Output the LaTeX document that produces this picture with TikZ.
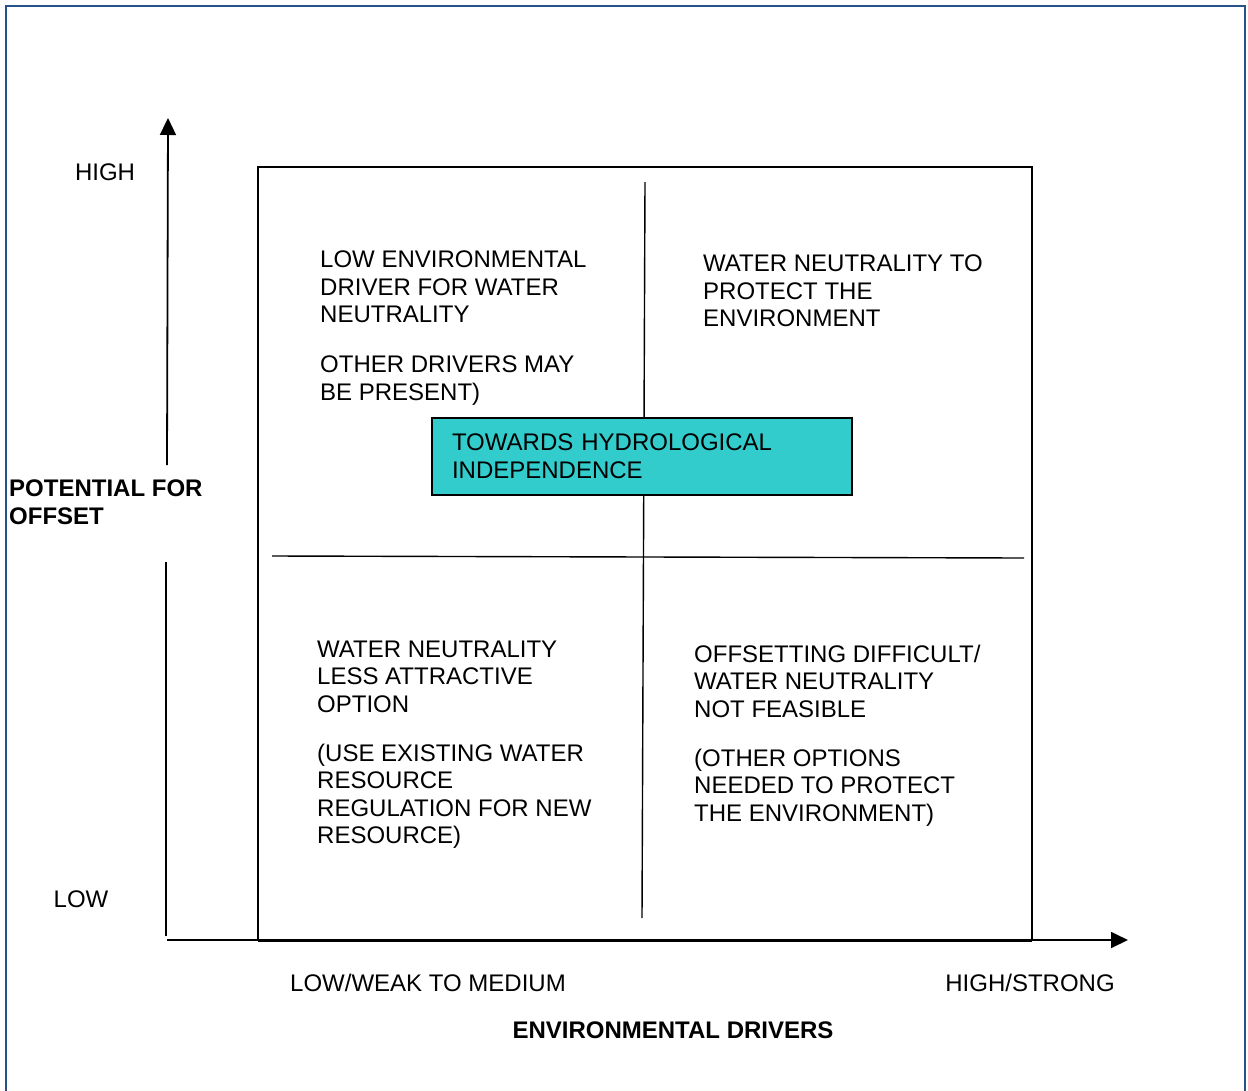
\documentclass[tikz,border=0pt]{standalone}
\usepackage{fontspec}
\setmainfont{Liberation Sans}
\usetikzlibrary{arrows.meta}
\definecolor{framblue}{RGB}{38,82,140}
\definecolor{hydroteal}{RGB}{51,204,204}
\begin{document}
\begin{tikzpicture}[x=1pt,y=-1pt,
        font=\fontsize{24}{27.6}\selectfont,
        every node/.style={inner sep=0pt,align=left},
        quad/.style={anchor=north west},
        axis/.style={line width=1.8pt,-{Triangle[length=17pt,width=16pt]}},
        divider/.style={line width=1.4pt}]

    \useasboundingbox (0,0) rectangle (1248,1090);
    \draw[framblue,line width=2pt] (6,1095) -- (6,6) -- (1245,6) -- (1245,1095);

    % axes
    \coordinate (ybot) at (166,936);
    \coordinate (ygap1) at (166,562);
    \coordinate (ygap2) at (167,465);
    \coordinate (ytop) at (168,118);
    \coordinate (xleft) at (167,940);
    \coordinate (xright) at (1128,940);
    \draw[line width=1.8pt] (ybot) -- (ygap1);
    \draw[axis] (ygap2) -- (ytop);
    \draw[axis] (xleft) -- (xright);

    % matrix box
    \draw[line width=2pt] (258,167) rectangle (1032,940);
    \draw[line width=3pt] (258,940) -- (1032,940);
    \coordinate (vtop) at (645,182);
    \coordinate (vbot) at (642,918);
    \coordinate (hleft) at (272,556);
    \coordinate (hright) at (1024,558);
    \draw[divider] (vtop) -- (vbot);
    \draw[divider] (hleft) -- (hright);

    \node[draw,line width=1.6pt,fill=hydroteal,text width=380pt,inner xsep=20pt,
          minimum width=420pt,minimum height=77pt] (hydro) at (642,456.5)
        {TOWARDS HYDROLOGICAL\\INDEPENDENCE};

    % axis labels
    \node (high) at (105,172) {HIGH};
    \node (low) at (81,899) {LOW};
    \node[quad,font=\fontsize{24}{27.6}\selectfont\bfseries] (potential) at (9,479.5)
        {POTENTIAL FOR\\OFFSET};
    \node (weak) at (428,983) {LOW/WEAK TO MEDIUM};
    \node (strong) at (1030,983) {HIGH/STRONG};
    \node[font=\fontsize{24}{27.6}\selectfont\bfseries] (drivers) at (673,1030)
        {ENVIRONMENTAL DRIVERS};

    % quadrants
    \node[quad] (tl1) at (320,250.5) {LOW ENVIRONMENTAL\\DRIVER FOR WATER\\NEUTRALITY};
    \node[quad] (tl2) at (320,355.5) {OTHER DRIVERS MAY\\BE PRESENT)};
    \node[quad] (tr) at (703,254.5) {WATER NEUTRALITY TO\\PROTECT THE\\ENVIRONMENT};
    \node[quad] (bl1) at (317,640.5) {WATER NEUTRALITY\\LESS ATTRACTIVE\\OPTION};
    \node[quad] (bl2) at (317,743.5) {(USE EXISTING WATER\\RESOURCE\\REGULATION FOR NEW\\RESOURCE)};
    \node[quad] (br1) at (694,644.5) {OFFSETTING DIFFICULT/\\WATER NEUTRALITY\\NOT FEASIBLE};
    \node[quad] (br2) at (694,748.5) {(OTHER OPTIONS\\NEEDED TO PROTECT\\THE ENVIRONMENT)};
\end{tikzpicture}
\end{document}
